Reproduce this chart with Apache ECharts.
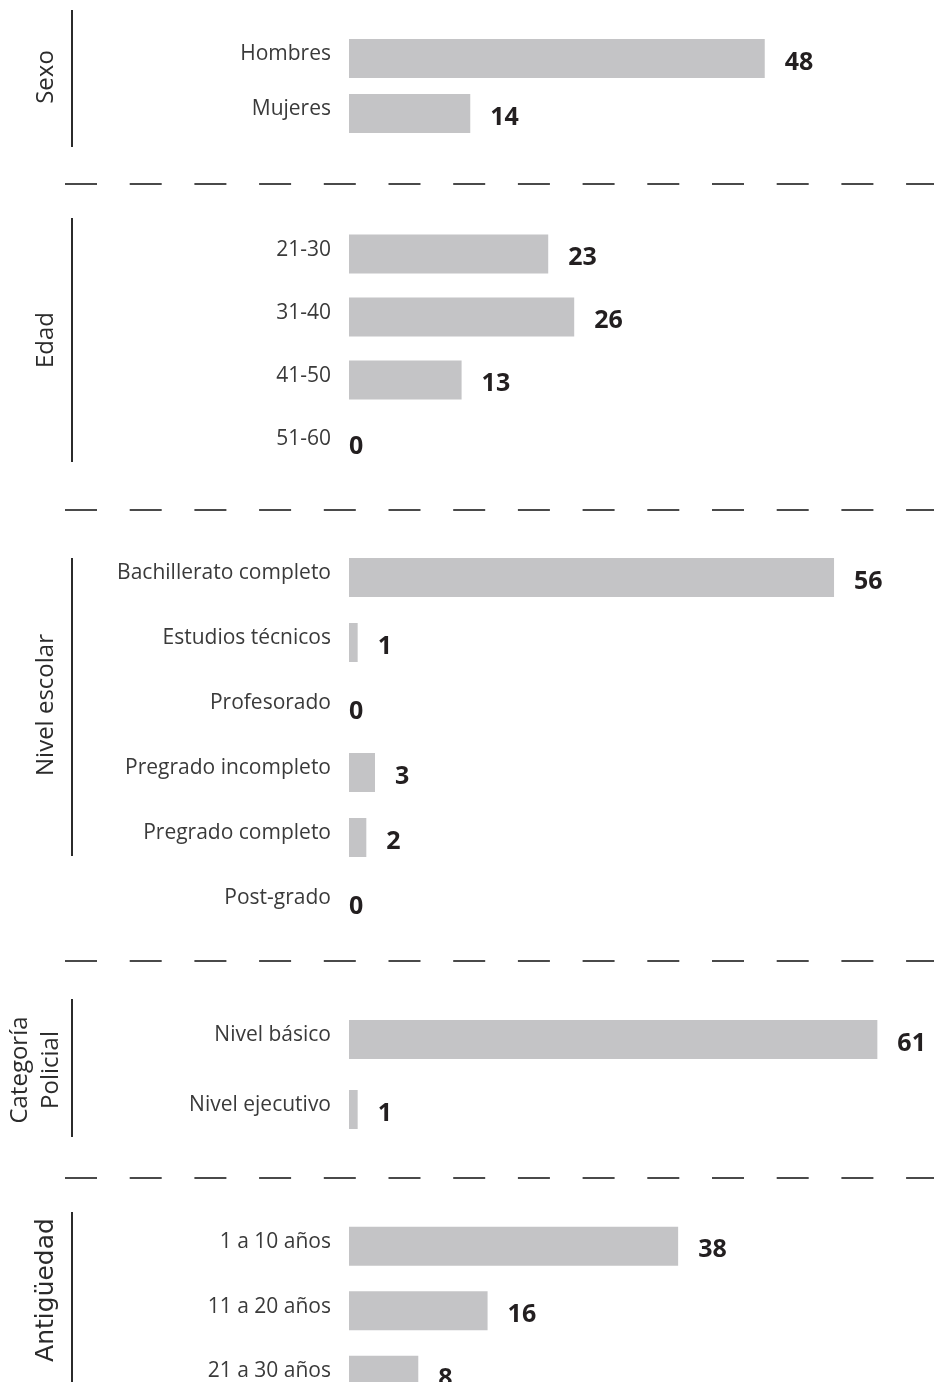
<!DOCTYPE html>
<html>
<head>
<meta charset="utf-8">
<script src="https://cdn.jsdelivr.net/npm/echarts@6/dist/echarts.min.js"></script>
<style>
  html, body { margin: 0; padding: 0; background: #fff; overflow: hidden; }
  /* taller than the window so the last block can run past the bottom edge */
  #chartContainer { width: 934px; height: 1460px; }
</style>
</head>
<body>
<div id="chartContainer"></div>
<script>
// data per block
const sexoCats = ['Hombres', 'Mujeres'];
const sexoVals = [48, 14];

const edadCats = ['21-30', '31-40', '41-50', '51-60'];
const edadVals = [23, 26, 13, 0];

const nivelCats = ['Bachillerato completo', 'Estudios técnicos', 'Profesorado', 'Pregrado incompleto', 'Pregrado completo', 'Post-grado'];
const nivelVals = [56, 1, 0, 3, 2, 0];

const categoriaCats = ['Nivel básico', 'Nivel ejecutivo'];
const categoriaVals = [61, 1];

const antigCats = ['1 a 10 años', '11 a 20 años', '21 a 30 años'];
const antigVals = [38, 16, 8];

const blockTitles = ['Sexo', 'Edad', 'Nivel escolar', 'Categoría\nPolicial', 'Antigüedad'];

const myChart = echarts.init(document.getElementById('chartContainer'));

// layout of each block (top / height of the grid, vertical bracket line)
const blocks = [
    { cats: sexoCats, vals: sexoVals, top: 31, height: 110, line: [10, 147], titleX: 46, titleY: 77 },
    { cats: edadCats, vals: edadVals, top: 222.5, height: 252, line: [218, 462], titleX: 46, titleY: 340 },
    { cats: nivelCats, vals: nivelVals, top: 545, height: 390, line: [558, 856], titleX: 46, titleY: 705 },
    { cats: categoriaCats, vals: categoriaVals, top: 1004.5, height: 140, line: [999, 1137], titleX: 36, titleY: 1070 },
    { cats: antigCats, vals: antigVals, top: 1214, height: 193.5, line: [1212, 1382], titleX: 46, titleY: 1290 }
];
const separators = [184, 510, 961, 1178];

const labelFont = '"Open Sans", sans-serif';

const grid = [], xAxis = [], yAxis = [], series = [];
blocks.forEach((b, i) => {
    grid.push({ left: 349, width: 563, top: b.top, height: b.height });
    xAxis.push({ type: 'value', gridIndex: i, min: 0, max: 65, show: false });
    yAxis.push({
        type: 'category', gridIndex: i, inverse: true, data: b.cats,
        axisLine: { show: false }, axisTick: { show: false }, splitLine: { show: false },
        axisLabel: {
            margin: 18, fontFamily: labelFont, fontSize: 21, color: '#3a3a3a',
            verticalAlign: 'bottom', lineHeight: 8
        }
    });
    series.push({
        type: 'bar', xAxisIndex: i, yAxisIndex: i, barWidth: 39,
        itemStyle: { color: '#c4c4c6' },
        label: {
            show: true, position: 'right', distance: 20, offset: [0, 4],
            fontFamily: labelFont, fontWeight: 'bold', fontSize: 25, color: '#231f20'
        },
        data: b.vals.map(v => v === 0 ? { value: v, label: { distance: 0 } } : v)
    });
});

const graphic = [];
blocks.forEach((b, i) => {
    graphic.push({
        type: 'line', shape: { x1: 72, y1: b.line[0], x2: 72, y2: b.line[1] },
        style: { stroke: '#2b2b2b', lineWidth: 2 }
    });
    graphic.push({
        type: 'text', x: b.titleX, y: b.titleY, rotation: Math.PI / 2,
        style: {
            text: blockTitles[i], align: 'center', verticalAlign: 'middle',
            fontFamily: i === 4 ? '"DejaVu Sans", sans-serif' : labelFont,
            fontSize: i === 4 ? 25 : 24, lineHeight: 31, fill: '#2b2b2b'
        }
    });
});
separators.forEach(y => {
    graphic.push({
        type: 'line', shape: { x1: 65, y1: y, x2: 934, y2: y },
        style: { stroke: '#4a4a4a', lineWidth: 2, lineDash: [32, 32.7] }
    });
});

myChart.setOption({
    animation: false,
    grid: grid,
    xAxis: xAxis,
    yAxis: yAxis,
    series: series,
    graphic: graphic
});
</script>
</body>
</html>
